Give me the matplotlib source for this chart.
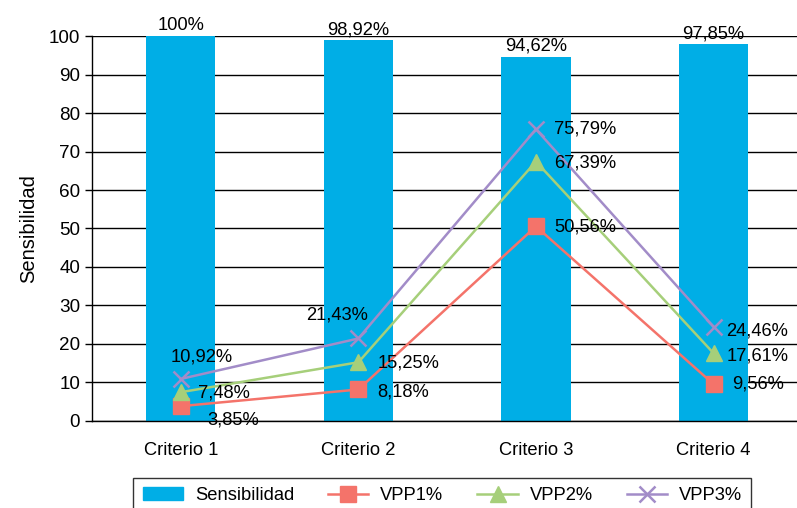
import numpy as np
import matplotlib.pyplot as plt
from matplotlib.lines import Line2D
from matplotlib.patches import Patch

plt.rcParams['font.family'] = ['Liberation Sans', 'DejaVu Sans']

# data
criterios = ['Criterio 1', 'Criterio 2', 'Criterio 3', 'Criterio 4']
sensibilidad = [100, 98.92, 94.62, 97.85]
vpp1 = [3.85, 8.18, 50.56, 9.56]
vpp2 = [7.48, 15.25, 67.39, 17.61]
vpp3 = [10.92, 21.43, 75.79, 24.46]
sens_labels = ['100%', '98,92%', '94,62%', '97,85%']

c_bar = '#00AEE6'
c_red = '#F4736A'
c_green = '#A6CF7A'
c_purple = '#A28CC8'

fs = 13.2

fig = plt.figure(figsize=(7.97, 5.08), dpi=100)
ax = fig.add_axes([0.1154, 0.1713, 0.8846, 0.7578])

x = np.arange(len(criterios))
ax.bar(x, sensibilidad, width=0.39, color=c_bar, zorder=2)

ax.plot(x, vpp1, color=c_red, lw=1.8, marker='s', ms=11, zorder=3)
ax.plot(x, vpp2, color=c_green, lw=1.8, marker='^', ms=11, zorder=3)
ax.plot(x, vpp3, color=c_purple, lw=1.8, marker='x', ms=11, mew=1.8, zorder=3)

for i, v in enumerate(sensibilidad):
    ax.annotate(sens_labels[i], (x[i], v), xytext=(0, 1.5), textcoords='offset points',
                ha='center', va='bottom', fontsize=fs)


def fmt(v):
    return ('%.2f%%' % v).replace('.', ',')


# label offsets in pixels (dx, dy, ha)
off1 = [(27, -14, 'left'), (19, -3, 'left'), (18, -1, 'left'), (19, 0, 'left')]
off2 = [(17, -1, 'left'), (19, -1, 'left'), (18, -1, 'left'), (13, -3, 'left')]
off3 = [(-10, 22, 'left'), (-21, 23, 'center'), (18, 0, 'left'), (13, -4, 'left')]

for vals, offs in [(vpp1, off1), (vpp2, off2), (vpp3, off3)]:
    for i, v in enumerate(vals):
        dx, dy, ha = offs[i]
        ax.annotate(fmt(v), (x[i], v), xytext=(dx * 0.72, dy * 0.72),
                    textcoords='offset points', ha=ha, va='center',
                    fontsize=fs, zorder=4)

ax.set_xlim(-0.5, 3.47)
ax.set_ylim(0, 100)
ax.set_yticks(range(0, 101, 10))
ax.set_xticks(x)
ax.set_xticklabels(criterios)
ax.grid(axis='y', color='black', lw=1, zorder=1)
ax.set_axisbelow(True)
for s in ['top', 'right']:
    ax.spines[s].set_visible(False)
ax.spines['left'].set_linewidth(1)
ax.spines['bottom'].set_linewidth(1)
ax.tick_params(axis='x', length=0, pad=15, labelsize=fs)
ax.tick_params(axis='y', length=5, width=1, labelsize=13.6)
ax.set_ylabel('Sensibilidad', fontsize=14.5, labelpad=8)

handles = [Patch(color=c_bar),
           Line2D([], [], color=c_red, lw=1.8, marker='s', ms=11),
           Line2D([], [], color=c_green, lw=1.8, marker='^', ms=11),
           Line2D([], [], color=c_purple, lw=1.8, marker='x', ms=11, mew=1.8)]
leg = fig.legend(handles, ['Sensibilidad', 'VPP1%', 'VPP2%', 'VPP3%'],
                 loc='upper center', bbox_to_anchor=(0.555, 0.059), ncol=4,
                 frameon=True, fancybox=False, edgecolor='black', fontsize=fs,
                 handlelength=2.2, handletextpad=0.65, columnspacing=1.85,
                 borderpad=0.5, borderaxespad=0)
leg.get_frame().set_linewidth(1)

fig.savefig('out.png', dpi=100)
